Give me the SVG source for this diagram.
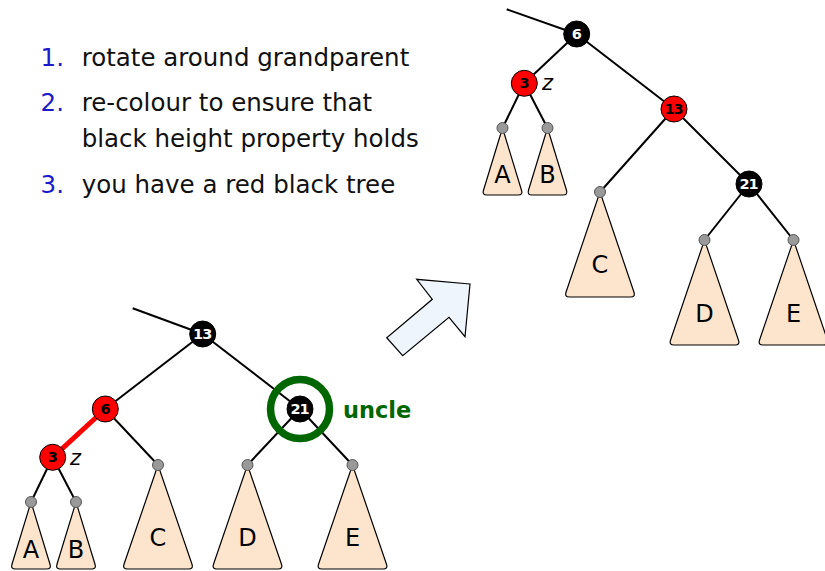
<svg xmlns="http://www.w3.org/2000/svg" width="825" height="571" viewBox="0 0 825 571">
<style>
.txt{font-family:"DejaVu Sans",sans-serif;font-size:24.5px;fill:#111}
.num{font-family:"DejaVu Sans",sans-serif;font-size:24.5px;fill:#1a1ac8;text-anchor:end}
.edge{stroke:#000;stroke-width:2;fill:none}
.red-edge{stroke:#ff0000;stroke-width:5;fill:none}
.blk{fill:#000;stroke:#000;stroke-width:1}
.rd{fill:#ff0000;stroke:#000;stroke-width:1}
.lbl-w{font-family:"DejaVu Sans",sans-serif;font-weight:bold;font-size:14.5px;letter-spacing:-1px;fill:#fff;text-anchor:middle}
.lbl-b{font-family:"DejaVu Sans",sans-serif;font-weight:bold;font-size:14.5px;letter-spacing:-1px;fill:#000;text-anchor:middle}
.leaf{fill:#999;stroke:#555;stroke-width:1}
.tri{fill:#fde5cd;stroke:#000;stroke-width:1.2;stroke-linejoin:round}
.tl{font-family:"DejaVu Sans",sans-serif;font-size:24px;fill:#000;text-anchor:middle}
.z{font-family:"DejaVu Sans",sans-serif;font-style:italic;font-size:21px;fill:#000}
</style>

<g id="steps">
<text class="num" x="64" y="66">1.</text><text class="txt" x="81.7" y="66">rotate around grandparent</text>
<text class="num" x="64" y="111">2.</text><text class="txt" x="81.7" y="111">re-colour to ensure that</text>
<text class="txt" x="81.7" y="147">black height property holds</text>
<text class="num" x="64" y="193">3.</text><text class="txt" x="81.7" y="193">you have a red black tree</text>
</g>

<g id="arrow">
<polygon points="470,284 416.7,279.3 432.3,299.3 386.7,337.7 402.7,355.7 449,317.3 465,336.7" fill="#eef5fd" stroke="#000" stroke-width="1.2" stroke-linejoin="miter"/>
</g>

<g id="connectors">
<line class="edge" x1="132.7" y1="308.3" x2="202.7" y2="334"/>
<line class="edge" x1="202.7" y1="334" x2="105.3" y2="409"/>
<line class="edge" x1="202.7" y1="334" x2="300" y2="409"/>
<line class="red-edge" x1="105.3" y1="409" x2="52.7" y2="457.3"/>
<line class="edge" x1="105.3" y1="409" x2="158" y2="465"/>
<line class="edge" x1="52.7" y1="457.3" x2="31" y2="502"/>
<line class="edge" x1="52.7" y1="457.3" x2="76" y2="502"/>
<line class="edge" x1="300" y1="409" x2="247.5" y2="465"/>
<line class="edge" x1="300" y1="409" x2="352.5" y2="465"/>

<line class="edge" x1="506.7" y1="9.3" x2="576.7" y2="34"/>
<line class="edge" x1="576.7" y1="34" x2="524.3" y2="83.3"/>
<line class="edge" x1="576.7" y1="34" x2="674" y2="109"/>
<line class="edge" x1="524.3" y1="83.3" x2="502.5" y2="128"/>
<line class="edge" x1="524.3" y1="83.3" x2="547.5" y2="128"/>
<line class="edge" x1="674" y1="109" x2="600" y2="192"/>
<line class="edge" x1="674" y1="109" x2="749" y2="184"/>
<line class="edge" x1="749" y1="184" x2="704.5" y2="240"/>
<line class="edge" x1="749" y1="184" x2="793.5" y2="240"/>
</g>

<g id="b-A"><path class="tri" d="M31,502 L12,564.2 Q10.5,569 15.5,569 L46.5,569 Q51.5,569 50,564.2 Z"/><circle class="leaf" cx="31" cy="502" r="5.5"/><text class="tl" x="31" y="557.5">A</text></g>
<g id="b-B"><path class="tri" d="M76,502 L57,564.2 Q55.5,569 60.5,569 L91.5,569 Q96.5,569 95,564.2 Z"/><circle class="leaf" cx="76" cy="502" r="5.5"/><text class="tl" x="76" y="557.5">B</text></g>
<g id="b-C"><path class="tri" d="M158,465 L124,564.2 Q122.5,569 127.5,569 L188.5,569 Q193.5,569 192,564.2 Z"/><circle class="leaf" cx="158" cy="465" r="5.5"/><text class="tl" x="158" y="546">C</text></g>
<g id="b-D"><path class="tri" d="M247.5,465 L213.5,564.2 Q212,569 217,569 L278,569 Q283,569 281.5,564.2 Z"/><circle class="leaf" cx="247.5" cy="465" r="5.5"/><text class="tl" x="247.5" y="546">D</text></g>
<g id="b-E"><path class="tri" d="M352.5,465 L318.5,564.2 Q317,569 322,569 L383,569 Q388,569 386.5,564.2 Z"/><circle class="leaf" cx="352.5" cy="465" r="5.5"/><text class="tl" x="352.5" y="546">E</text></g>

<g id="b-13"><circle class="blk" cx="202.7" cy="334" r="13"/><text class="lbl-w" x="202.2" y="339">13</text></g>
<g id="b-6"><circle class="rd" cx="105.3" cy="409" r="13"/><text class="lbl-b" x="105" y="414">6</text></g>
<g id="b-3"><circle class="rd" cx="52.7" cy="457.3" r="13"/><text class="lbl-b" x="52.4" y="462.3">3</text><text class="z" x="70" y="464.5">z</text></g>
<g id="b-21"><circle class="blk" cx="300" cy="409" r="13"/><text class="lbl-w" x="299.5" y="414">21</text>
<circle cx="300" cy="409" r="29.5" fill="none" stroke="#006600" stroke-width="7.5"/>
<text x="343" y="418" font-family="DejaVu Sans, sans-serif" font-weight="bold" font-size="22.5" fill="#006600">uncle</text></g>

<g id="t-A"><path class="tri" d="M502.5,128 L483.5,190.2 Q482,195 487,195 L518,195 Q523,195 521.5,190.2 Z"/><circle class="leaf" cx="502.5" cy="128" r="5.5"/><text class="tl" x="502.5" y="183">A</text></g>
<g id="t-B"><path class="tri" d="M547.5,128 L528.5,190.2 Q527,195 532,195 L563,195 Q568,195 566.5,190.2 Z"/><circle class="leaf" cx="547.5" cy="128" r="5.5"/><text class="tl" x="547.5" y="183">B</text></g>
<g id="t-C"><path class="tri" d="M600,192 L566,292.2 Q564.5,297 569.5,297 L630.5,297 Q635.5,297 634,292.2 Z"/><circle class="leaf" cx="600" cy="192" r="5.5"/><text class="tl" x="600" y="273">C</text></g>
<g id="t-D"><path class="tri" d="M704.5,240 L670.5,340.2 Q669,345 674,345 L735,345 Q740,345 738.5,340.2 Z"/><circle class="leaf" cx="704.5" cy="240" r="5.5"/><text class="tl" x="704.5" y="322">D</text></g>
<g id="t-E"><path class="tri" d="M793.5,240 L759.5,340.2 Q758,345 763,345 L824,345 Q829,345 827.5,340.2 Z"/><circle class="leaf" cx="793.5" cy="240" r="5.5"/><text class="tl" x="793.5" y="322">E</text></g>

<g id="t-6"><circle class="blk" cx="576.7" cy="34" r="13"/><text class="lbl-w" x="576.4" y="39">6</text></g>
<g id="t-3"><circle class="rd" cx="524.3" cy="83.3" r="13"/><text class="lbl-b" x="524" y="88.3">3</text><text class="z" x="542" y="89.5">z</text></g>
<g id="t-13"><circle class="rd" cx="674" cy="109" r="13"/><text class="lbl-b" x="673.5" y="114">13</text></g>
<g id="t-21"><circle class="blk" cx="749" cy="184" r="13"/><text class="lbl-w" x="748.5" y="189">21</text></g>
</svg>
